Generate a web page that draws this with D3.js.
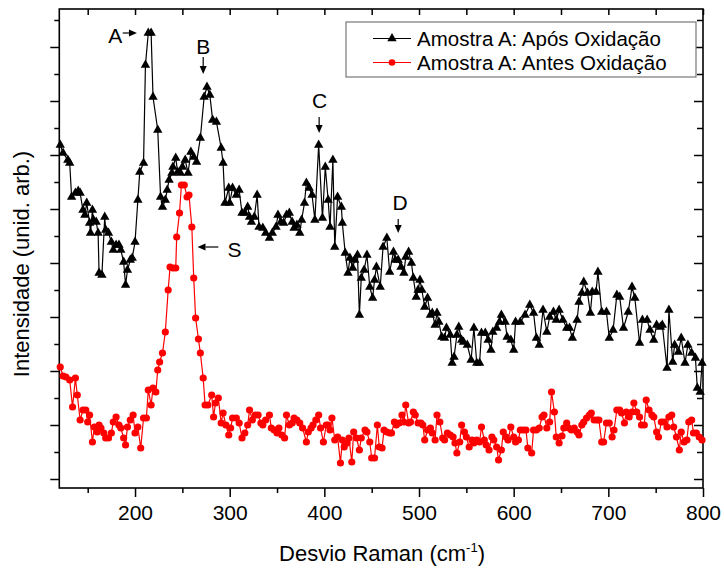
<!DOCTYPE html>
<html><head><meta charset="utf-8">
<script src="https://cdn.jsdelivr.net/npm/d3@7"></script>
<style>body{margin:0;background:#fff}svg{display:block}text{font-family:"Liberation Sans",Arial,Helvetica,sans-serif;fill:#000}</style>
</head><body><svg id="c" width="724" height="574"></svg>
<script>
// Raman shift (cm^-1) and intensity (arbitrary units)
const aposData = [[121,343],[124,335],[129,328],[131,325],[133,291],[137,295],[140,297],[142,295],[145,278],[147,273],[149,285],[152,265],[153,255],[155,278],[156,268],[159,266],[161,255],[162,215],[165,213],[168,271],[169,258],[172,255],[175,246],[177,238],[180,243],[183,243],[185,238],[188,226],[190,203],[192,218],[195,228],[197,230],[200,246],[203,288],[205,316],[209,325],[211,423],[214,455],[217,455],[219,391],[224,358],[227,291],[229,281],[232,288],[234,298],[236,308],[239,315],[240,321],[243,330],[245,316],[248,315],[250,321],[253,328],[256,315],[259,336],[262,331],[265,326],[269,350],[273,391],[276,401],[279,393],[282,368],[286,366],[291,340],[293,325],[295,285],[299,300],[300,285],[303,300],[307,293],[310,298],[313,275],[316,275],[319,281],[321,271],[323,266],[326,271],[329,293],[331,261],[335,260],[338,255],[342,250],[345,255],[349,261],[351,273],[354,266],[357,265],[360,273],[363,275],[366,266],[368,260],[371,263],[374,255],[376,268],[379,285],[381,305],[384,300],[387,293],[390,268],[394,343],[398,270],[401,321],[404,288],[406,261],[409,328],[411,241],[414,291],[418,281],[419,265],[422,235],[425,215],[427,230],[430,220],[432,228],[435,233],[437,173],[439,210],[442,218],[445,233],[448,201],[451,190],[453,208],[455,221],[459,201],[462,241],[466,250],[469,216],[473,236],[475,228],[478,228],[481,221],[484,215],[486,231],[489,236],[492,225],[494,210],[497,191],[499,198],[501,208],[503,198],[506,181],[509,190],[512,173],[514,175],[517,163],[519,175],[521,166],[524,151],[527,150],[529,160],[533,153],[535,125],[537,131],[540,153],[542,161],[545,148],[547,146],[551,143],[555,128],[558,160],[561,125],[564,125],[566,155],[570,155],[573,148],[576,138],[578,156],[582,160],[585,166],[587,173],[591,166],[593,151],[597,148],[600,138],[602,166],[607,166],[612,173],[617,183],[621,175],[624,150],[627,143],[631,178],[635,156],[638,171],[642,176],[645,168],[648,178],[652,168],[656,160],[659,160],[662,150],[667,168],[669,186],[672,195],[674,206],[678,195],[681,175],[683,196],[687,196],[689,216],[693,176],[698,176],[701,150],[705,158],[709,193],[712,191],[716,160],[721,176],[725,201],[728,190],[733,145],[736,168],[741,168],[744,158],[748,148],[751,163],[755,161],[757,163],[762,120],[764,178],[768,126],[770,143],[774,136],[777,150],[781,125],[784,143],[788,135],[792,130],[794,100],[797,96],[799,125]];

const antesData = [[121,121],[124,112],[127,111],[131,108],[134,81],[137,110],[139,93],[142,68],[145,78],[148,78],[150,66],[152,73],[155,46],[157,61],[160,56],[162,63],[164,60],[167,55],[169,50],[172,50],[175,55],[177,66],[180,71],[183,63],[185,60],[188,50],[190,43],[192,61],[195,68],[198,73],[200,55],[203,61],[206,40],[209,70],[212,70],[214,98],[217,83],[219,100],[222,96],[224,118],[226,126],[229,135],[232,156],[235,198],[237,221],[240,220],[243,220],[244,251],[247,275],[249,303],[252,303],[255,291],[257,293],[260,261],[262,210],[264,170],[267,149],[269,135],[272,110],[274,83],[277,83],[281,93],[283,71],[285,85],[288,90],[291,65],[293,75],[296,63],[299,53],[301,60],[303,70],[307,70],[310,65],[313,50],[316,55],[319,63],[321,78],[324,68],[327,73],[330,73],[333,65],[335,63],[338,68],[342,73],[344,60],[347,58],[350,55],[352,60],[355,53],[358,50],[360,73],[363,63],[366,65],[368,70],[371,68],[374,65],[377,60],[381,46],[383,56],[386,60],[388,63],[391,68],[394,73],[396,60],[399,46],[402,63],[404,63],[406,58],[408,70],[411,48],[414,51],[417,25],[419,48],[421,41],[424,45],[426,50],[429,26],[431,56],[434,50],[437,38],[439,50],[443,58],[445,56],[448,46],[450,30],[453,30],[456,63],[458,41],[461,40],[463,58],[466,56],[469,55],[471,55],[474,66],[476,63],[479,65],[482,73],[484,66],[486,83],[489,65],[491,66],[494,76],[496,73],[499,65],[502,65],[504,63],[506,48],[509,58],[512,60],[514,55],[517,48],[519,73],[522,66],[525,50],[527,48],[530,55],[533,53],[536,51],[538,45],[540,35],[543,46],[545,63],[548,56],[550,51],[553,41],[556,48],[558,45],[561,48],[564,46],[566,61],[569,48],[571,43],[574,38],[577,51],[579,48],[582,41],[584,28],[587,38],[589,56],[592,51],[594,48],[597,61],[600,51],[602,46],[605,48],[607,58],[610,58],[613,58],[615,40],[619,35],[621,58],[624,58],[627,60],[630,71],[632,73],[635,60],[638,66],[640,96],[643,76],[645,51],[648,45],[651,52],[653,60],[656,65],[658,60],[661,58],[664,60],[667,56],[669,53],[672,63],[674,66],[677,70],[680,73],[682,75],[685,68],[688,68],[690,68],[693,46],[695,46],[698,65],[701,65],[704,51],[706,58],[709,78],[712,78],[714,75],[717,65],[719,76],[722,71],[725,76],[727,85],[730,76],[733,71],[735,63],[738,63],[740,88],[743,78],[746,73],[748,71],[751,56],[753,51],[756,66],[759,66],[762,61],[764,71],[767,73],[769,61],[772,51],[775,38],[777,56],[780,46],[783,48],[785,66],[788,68],[790,55],[793,55],[796,51],[799,48]];

const seriesNames = ["Amostra A: Após Oxidação", "Amostra A: Antes Oxidação"];
const xMajorTicks = [200, 300, 400, 500, 600, 700, 800];
const xMinorTicks = [150, 250, 350, 450, 550, 650, 750];
const xTopTicks = [150, 200, 250, 300, 350, 400, 450, 500, 550, 600, 650, 700, 750, 800];
const yMajorTicks = [9, 63, 117, 171, 225, 279, 333, 387, 441];
const yMinorTicks = [36, 90, 144, 198, 252, 306, 360, 414, 468];
const peakLabels = [
  {t: "A", tx: 179, ty: 453, ax1: 187, ay1: 455, ax2: 202, ay2: 455},
  {t: "B", tx: 272, ty: 442, ax1: 272, ay1: 431, ax2: 272, ay2: 414},
  {t: "C", tx: 395, ty: 388, ax1: 394.5, ay1: 371, ax2: 394.5, ay2: 355},
  {t: "D", tx: 480, ty: 286, ax1: 478, ay1: 269, ax2: 478, ay2: 255},
  {t: "S", tx: 305, ty: 239, ax1: 288, ay1: 241, ax2: 266, ay2: 241}
];

const svg = d3.select("#c");
const L = 59.3, R = 703, T = 9, B = 488;
const x = d3.scaleLinear().domain([120, 800]).range([L, R]);
const y = d3.scaleLinear().domain([0, 479]).range([B, T]);

function clean(g){ g.select(".domain").remove(); g.selectAll(".tick line").attr("stroke","#000").attr("stroke-width",1.5); }
svg.append("g").attr("transform",`translate(0,${B})`)
  .call(d3.axisBottom(x).tickValues(xMinorTicks).tickSize(5).tickFormat("")).call(clean);
const bx = svg.append("g").attr("transform",`translate(0,${B})`)
  .call(d3.axisBottom(x).tickValues(xMajorTicks).tickSize(9).tickPadding(8).tickFormat(d3.format("d"))).call(clean);
bx.selectAll("text").attr("font-size", 21).attr("font-family", '"Liberation Sans",Arial,sans-serif').attr("fill","#000");
svg.append("g").attr("transform",`translate(0,${T})`)
  .call(d3.axisTop(x).tickValues(xTopTicks).tickSize(-6).tickFormat("")).call(clean);
svg.append("g").attr("transform",`translate(${L},0)`)
  .call(d3.axisLeft(y).tickValues(yMajorTicks).tickSize(9).tickFormat("")).call(clean);
svg.append("g").attr("transform",`translate(${L},0)`)
  .call(d3.axisLeft(y).tickValues(yMinorTicks).tickSize(5).tickFormat("")).call(clean);
svg.append("g").attr("transform",`translate(${R},0)`)
  .call(d3.axisRight(y).tickValues(yMajorTicks).tickSize(-9).tickFormat("")).call(clean);
svg.append("g").attr("transform",`translate(${R},0)`)
  .call(d3.axisRight(y).tickValues(yMinorTicks).tickSize(-6).tickFormat("")).call(clean);

svg.append("rect").attr("x",L).attr("y",T).attr("width",R-L).attr("height",B-T)
  .attr("fill","none").attr("stroke","#000").attr("stroke-width",1.6);

const line = d3.line().x(d => x(d[0])).y(d => y(d[1]));
const tri = d3.symbol().type(d3.symbolTriangle).size(38);

svg.append("path").datum(antesData).attr("d", line).attr("fill","none").attr("stroke","#ff0000").attr("stroke-width",1.2);
svg.append("g").selectAll("circle").data(antesData).join("circle")
  .attr("cx", d => x(d[0])).attr("cy", d => y(d[1])).attr("r", 3.6).attr("fill","#ff0000");

svg.append("path").datum(aposData).attr("d", line).attr("fill","none").attr("stroke","#000").attr("stroke-width",1.2);
svg.append("g").selectAll("path").data(aposData).join("path")
  .attr("d", tri).attr("transform", d => `translate(${x(d[0])},${y(d[1])})`).attr("fill","#000");

const ann = svg.append("g");
peakLabels.forEach(p => {
  ann.append("text").attr("x", x(p.tx)).attr("y", y(p.ty)).attr("text-anchor","middle")
    .attr("dominant-baseline","central").attr("font-size",21).text(p.t);
  const x1 = x(p.ax1), y1 = y(p.ay1), x2 = x(p.ax2), y2 = y(p.ay2);
  const dx = x2 - x1, dy = y2 - y1, len = Math.hypot(dx, dy), ux = dx/len, uy = dy/len;
  const hl = 8, hw = 3.5;
  const bxp = x2 - ux*hl, byp = y2 - uy*hl;
  ann.append("line").attr("x1",x1).attr("y1",y1).attr("x2",bxp).attr("y2",byp).attr("stroke","#000").attr("stroke-width",1.2);
  ann.append("path").attr("d", `M${x2},${y2}L${bxp - uy*hw},${byp + ux*hw}L${bxp + uy*hw},${byp - ux*hw}Z`).attr("fill","#000");
});

const xt = svg.append("text").attr("x", 382).attr("y", 561).attr("text-anchor","middle").attr("font-size",22);
xt.append("tspan").text("Desvio Raman (cm");
xt.append("tspan").attr("dy",-9).attr("font-size",13).text("-1");
xt.append("tspan").attr("dy",9).text(")");
svg.append("text").attr("transform","translate(29,264) rotate(-90)").attr("text-anchor","middle")
  .attr("font-size",22).text("Intensidade (unid. arb.)");

const lg = svg.append("g");
lg.append("rect").attr("x",346).attr("y",22).attr("width",350).attr("height",55)
  .attr("fill","#fff").attr("stroke","#777").attr("stroke-width",1.2);
const items = [{name: seriesNames[0], color:"#000", sym:"tri", yy:38.5}, {name: seriesNames[1], color:"#ff0000", sym:"circ", yy:62.5}];
items.forEach(it => {
  lg.append("line").attr("x1",373).attr("x2",411).attr("y1",it.yy).attr("y2",it.yy).attr("stroke",it.color).attr("stroke-width",1.2);
  if (it.sym === "tri") lg.append("path").attr("d", tri).attr("transform",`translate(392,${it.yy})`).attr("fill",it.color);
  else lg.append("circle").attr("cx",392).attr("cy",it.yy).attr("r",3.3).attr("fill",it.color);
  lg.append("text").attr("x",417).attr("y",it.yy).attr("dominant-baseline","central").attr("font-size",20.5).text(it.name);
});
</script></body></html>
